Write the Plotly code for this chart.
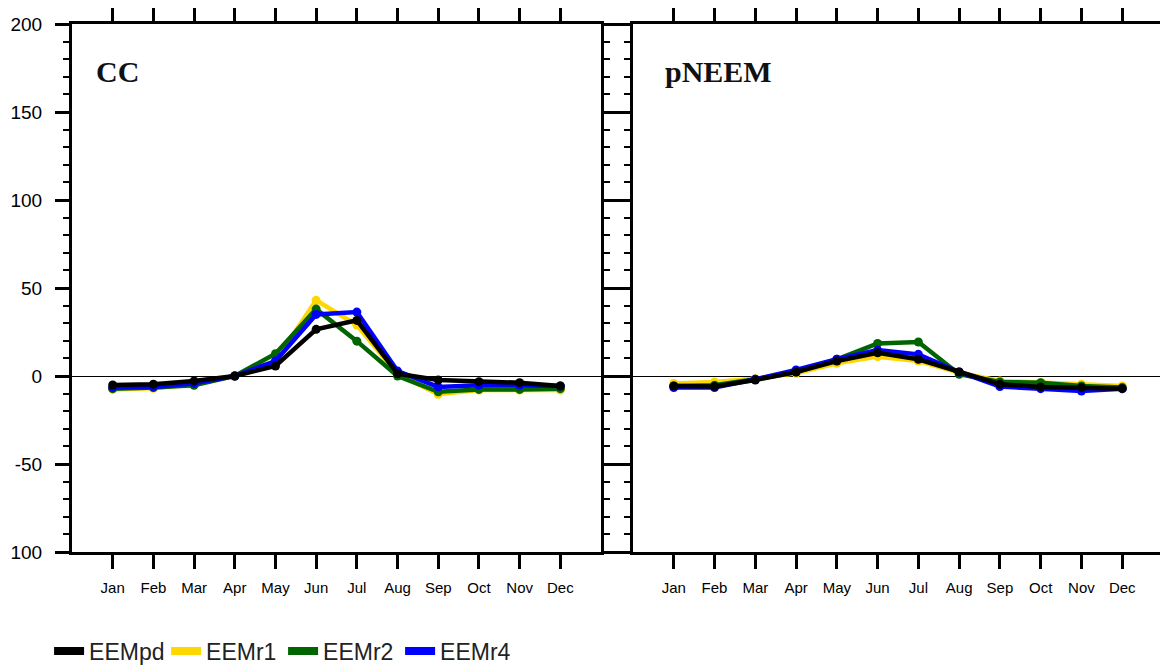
import plotly.graph_objects as go
from plotly.subplots import make_subplots

months = ["Jan", "Feb", "Mar", "Apr", "May", "Jun", "Jul", "Aug", "Sep", "Oct", "Nov", "Dec"]
month_pos = list(range(1, 13))

series_names = ["EEMpd", "EEMr1", "EEMr2", "EEMr4"]
series_colors = ["#000000", "#FFD700", "#006400", "#0000FF"]

# Panel CC
cc_pd = [-5.1, -4.7, -2.8, 0.0, 5.7, 26.5, 31.6, 1.3, -2.3, -3.2, -3.8, -5.7]
cc_r1 = [-7.6, -7.0, -4.7, 0.0, 8.5, 43.0, 29.0, 1.0, -10.4, -8.0, -8.0, -8.0]
cc_r2 = [-7.2, -6.6, -5.3, 0.0, 12.7, 38.0, 19.8, 0.0, -9.0, -7.6, -7.6, -7.2]
cc_r4 = [-6.6, -6.2, -4.2, 0.0, 8.5, 35.0, 36.3, 2.8, -6.2, -5.3, -5.3, -5.7]

# Panel pNEEM
pn_pd = [-5.7, -6.0, -2.3, 2.3, 8.5, 13.2, 9.5, 2.3, -4.7, -6.2, -6.6, -7.2]
pn_r1 = [-4.2, -3.4, -1.5, 1.5, 7.2, 11.0, 8.5, 1.9, -2.8, -3.8, -4.7, -5.7]
pn_r2 = [-5.7, -5.3, -1.9, 2.3, 9.5, 18.5, 19.3, 1.0, -3.4, -3.8, -5.7, -6.6]
pn_r4 = [-6.6, -6.6, -1.9, 3.4, 9.5, 14.7, 12.3, 2.3, -6.0, -7.2, -8.5, -7.2]

panel_titles = ["CC", "pNEEM"]
y_tickvals = [-100, -50, 0, 50, 100, 150, 200]
y_ticktext = ["100", "-50", "0", "50", "100", "150", "200"]

panels = [
    {"pd": cc_pd, "r1": cc_r1, "r2": cc_r2, "r4": cc_r4},
    {"pd": pn_pd, "r1": pn_r1, "r2": pn_r2, "r4": pn_r4},
]
keys = ["pd", "r1", "r2", "r4"]
draw_order = [1, 2, 3, 0]  # black drawn last (on top)

fig = make_subplots(rows=1, cols=2, horizontal_spacing=0.0293)

for ci, panel in enumerate(panels):
    for si in draw_order:
        fig.add_trace(
            go.Scatter(
                x=month_pos, y=panel[keys[si]], mode="lines+markers",
                line=dict(color=series_colors[si], width=4.5),
                marker=dict(color=series_colors[si], size=9),
                showlegend=False, hoverinfo="skip",
            ),
            row=1, col=ci + 1,
        )

# legend-only entries
for si in range(4):
    fig.add_trace(
        go.Scatter(
            x=[None], y=[None], mode="lines", name=series_names[si],
            line=dict(color=series_colors[si], width=8),
            showlegend=True,
        ),
        row=1, col=1,
    )

tick_font_x = dict(family="Liberation Sans, Arial", size=15, color="black")
tick_font_y = dict(family="Liberation Sans, Arial", size=19, color="black")

for ci in range(2):
    fig.update_xaxes(
        range=[0, 13], tickvals=month_pos, ticktext=months,
        showline=True, linecolor="black", linewidth=3, mirror="ticks",
        ticks="outside", ticklen=14, tickwidth=3, tickcolor="black",
        showgrid=False, zeroline=False, tickfont=tick_font_x,
        ticklabelstandoff=6,
        row=1, col=ci + 1,
    )
    fig.update_yaxes(
        range=[-100, 200], tickvals=y_tickvals, ticktext=y_ticktext,
        showline=True, linecolor="black", linewidth=3, mirror="ticks",
        ticks="outside", ticklen=14, tickwidth=3, tickcolor="black",
        minor=dict(dtick=10, ticks="outside", ticklen=6, tickwidth=1.5, tickcolor="black"),
        showgrid=False, zeroline=True, zerolinecolor="black", zerolinewidth=1,
        tickfont=tick_font_y, showticklabels=(ci == 0), ticklabelstandoff=9,
        row=1, col=ci + 1,
    )

fig.update_xaxes(domain=[0.0, 0.4849], row=1, col=1)
fig.update_xaxes(domain=[0.5142, 1.0], row=1, col=2)

for ci, title in enumerate(panel_titles):
    fig.add_annotation(
        xref=f"x{'' if ci == 0 else ci + 1} domain", yref=f"y{'' if ci == 0 else ci + 1} domain",
        x=0.042 if ci == 0 else 0.056, y=0.945, xanchor="left", yanchor="top",
        text=f"<b>{title}</b>", showarrow=False,
        font=dict(family="Liberation Serif, Times New Roman", size=30, color="#111111"),
    )

# page body has an 8px margin, so the figure is sized/placed to compensate
fig.update_layout(
    width=1160, height=663,
    margin=dict(l=64, r=5, t=16, b=119, autoexpand=False),
    paper_bgcolor="white", plot_bgcolor="white",
    showlegend=True,
    legend=dict(
        orientation="h", x=-0.021, xanchor="left", y=-0.1875, yanchor="middle",
        font=dict(family="Liberation Sans, Arial", size=23, color="#222222"),
        entrywidth=72, entrywidthmode="pixels", itemwidth=30,
        bgcolor="rgba(0,0,0,0)",
    ),
)

fig.write_html("out.html")
